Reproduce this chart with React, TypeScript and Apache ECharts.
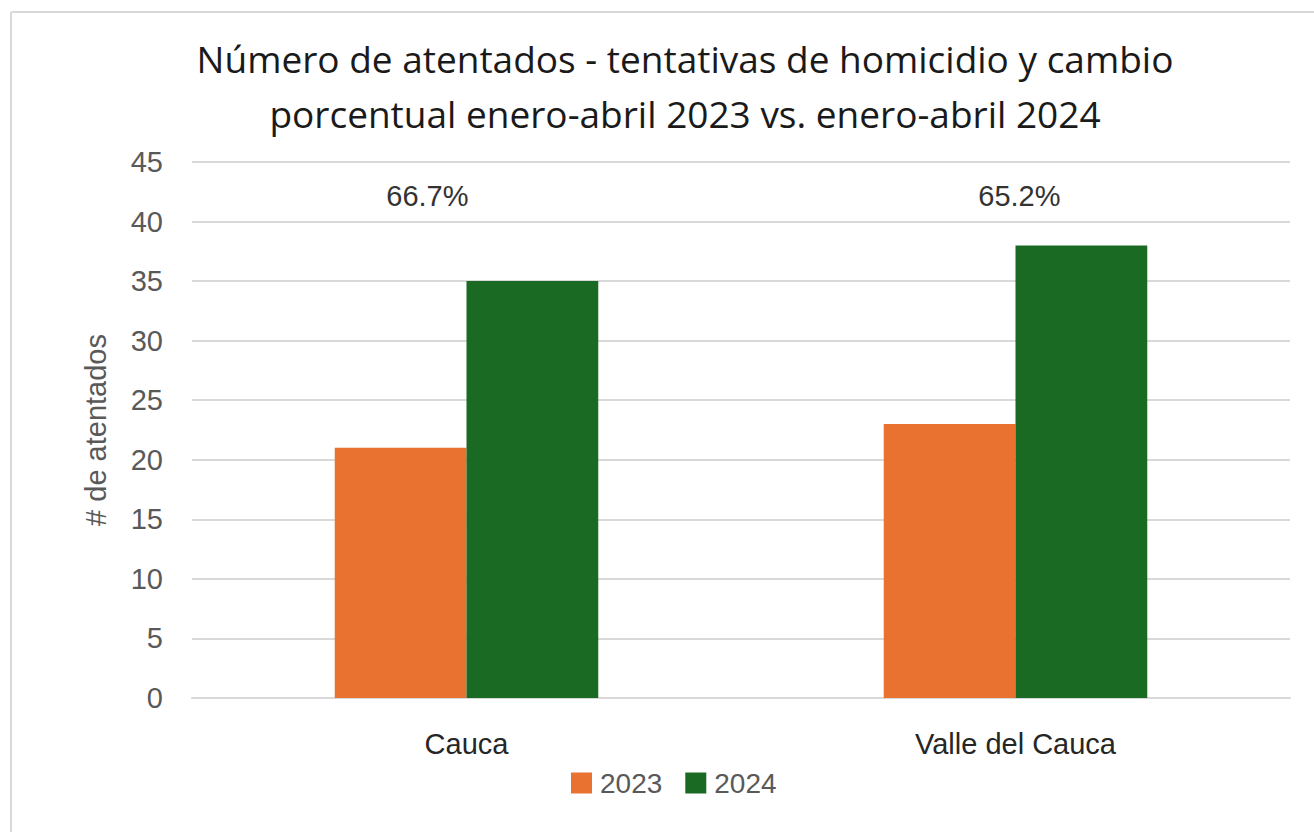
import React, { useEffect, useRef } from "react";
import * as echarts from "echarts";

const categories = ["Cauca", "Valle del Cauca"];
const values2023 = [21, 23];
const values2024 = [35, 38];
const seriesNames = ["2023", "2024"];
const yTicks = { min: 0, max: 45, interval: 5 };
const titleText =
  "Número de atentados - tentativas de homicidio y cambio\nporcentual enero-abril 2023 vs. enero-abril 2024";
const yAxisName = "# de atentados";
const pctLabelOffsets = [
  [-105, -66],
  [-62, -30],
];

const pctChange = (i: number) =>
  (((values2024[i] - values2023[i]) / values2023[i]) * 100).toFixed(1) + "%";

export default function App() {
  const ref = useRef<HTMLDivElement>(null);
  useEffect(() => {
    const chart = echarts.init(ref.current!, null, { renderer: "svg" });
    const titleFont = "'Open Sans', Lato, sans-serif";
    const font = "'Liberation Sans', Arial, sans-serif";
    chart.setOption({
      animation: false,
      backgroundColor: "#ffffff",
      textStyle: { fontFamily: font },
      title: {
        text: titleText,
        left: 680,
        textAlign: "center",
        top: 26,
        textStyle: {
          fontFamily: titleFont,
          fontSize: 37,
          fontWeight: "normal",
          color: "#1a1a1a",
          lineHeight: 55,
          align: "center",
        },
      },
      legend: {
        data: seriesNames,
        bottom: 30,
        left: 566,
        itemWidth: 21,
        itemHeight: 21,
        itemGap: 23,
        icon: "rect",
        textStyle: { fontSize: 28, color: "#595959", fontFamily: font, padding: [0, 0, 0, 3] },
      },
      grid: { left: 192, right: 24, top: 162, bottom: 134, containLabel: false },
      xAxis: {
        type: "category",
        data: categories,
        axisLine: { show: true, lineStyle: { color: "#d9d9d9", width: 2 } },
        axisTick: { show: false },
        axisLabel: {
          fontSize: 29,
          color: "#262626",
          margin: 31,
          fontFamily: font,
        },
      },
      yAxis: {
        type: "value",
        min: yTicks.min,
        max: yTicks.max,
        interval: yTicks.interval,
        name: yAxisName,
        nameLocation: "middle",
        nameGap: 82,
        nameTextStyle: { fontSize: 29, color: "#595959", fontFamily: font },
        axisLine: { show: false },
        axisTick: { show: false },
        splitLine: { lineStyle: { color: "#d9d9d9", width: 2 } },
        axisLabel: {
          fontSize: 29,
          color: "#595959",
          margin: 29,
          fontFamily: font,
        },
      },
      series: [
        {
          name: seriesNames[0],
          type: "bar",
          data: values2023,
          barWidth: "24%",
          barGap: "0%",
          itemStyle: { color: "#ea7231" },
        },
        {
          name: seriesNames[1],
          type: "bar",
          data: values2024.map((v, i) => ({
            value: v,
            label: {
              show: true,
              position: "top",
              offset: pctLabelOffsets[i],
              formatter: () => pctChange(i),
              fontSize: 29,
              color: "#333333",
              fontFamily: font,
            },
          })),
          barWidth: "24%",
          barGap: "0%",
          itemStyle: { color: "#1b6a23" },
        },
      ],
      graphic: [
        {
          type: "line",
          shape: { x1: 11, y1: 12, x2: 1314, y2: 12 },
          style: { stroke: "#d9d9d9", lineWidth: 2 },
        },
        {
          type: "line",
          shape: { x1: 11, y1: 12, x2: 11, y2: 832 },
          style: { stroke: "#d9d9d9", lineWidth: 2 },
        },
      ],
    });
    return () => chart.dispose();
  }, []);
  return (
    <div
      ref={ref}
      style={{ position: "fixed", left: 0, top: 0, width: 1314, height: 832 }}
    />
  );
}
